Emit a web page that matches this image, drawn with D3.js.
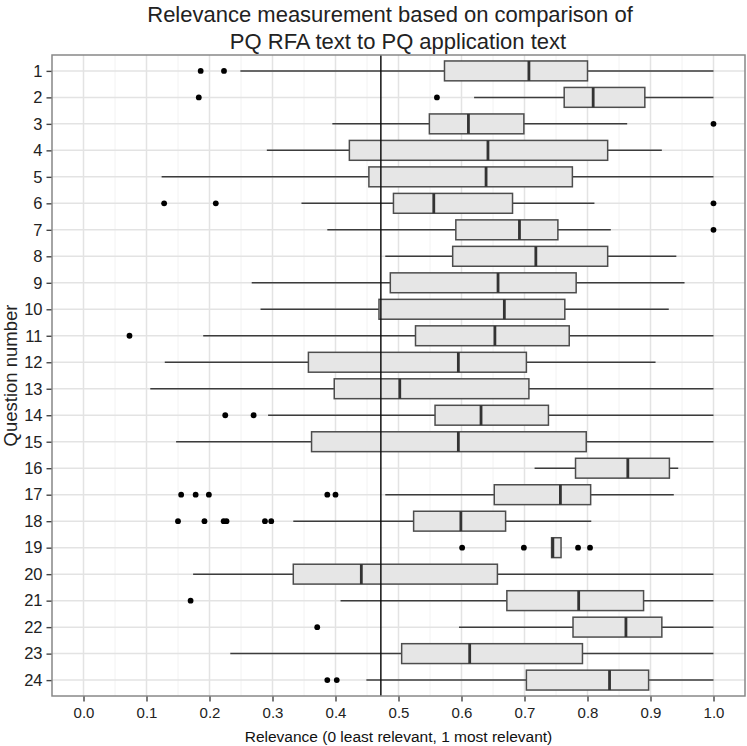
<!DOCTYPE html>
<meta charset="utf-8">
<style>
  body { margin: 0; background: #fff; }
  text { font-family: "Liberation Sans", Arial, sans-serif; }
</style>
<svg width="747" height="746"></svg>
<script src="https://cdn.jsdelivr.net/npm/d3@7"></script>
<script>

// question numbers, one box per question
var questions = d3.range(1, 25)

// five-number summaries
var lowWhisker = [0.249, 0.620, 0.395, 0.291, 0.124, 0.346, 0.387, 0.479, 0.267, 0.281, 0.190, 0.129,
                  0.106, 0.293, 0.147, 0.716, 0.479, 0.333, 0.743, 0.174, 0.408, 0.596, 0.233, 0.449]
var q1 = [0.573, 0.763, 0.549, 0.422, 0.453, 0.492, 0.591, 0.586, 0.487, 0.469, 0.527, 0.357,
          0.398, 0.558, 0.362, 0.781, 0.652, 0.524, 0.743, 0.333, 0.672, 0.777, 0.505, 0.703]
var medians = [0.707, 0.809, 0.611, 0.642, 0.639, 0.556, 0.692, 0.718, 0.658, 0.668, 0.653, 0.595,
               0.502, 0.631, 0.595, 0.864, 0.757, 0.599, 0.745, 0.441, 0.786, 0.861, 0.613, 0.835]
var q3 = [0.800, 0.891, 0.699, 0.832, 0.776, 0.681, 0.753, 0.832, 0.782, 0.764, 0.771, 0.703,
          0.707, 0.738, 0.798, 0.930, 0.805, 0.670, 0.758, 0.657, 0.889, 0.918, 0.792, 0.897]
var highWhisker = [1.0, 1.0, 0.863, 0.918, 1.0, 0.811, 0.837, 0.941, 0.954, 0.929, 1.0, 0.908,
                   1.0, 1.0, 1.0, 0.944, 0.937, 0.806, 0.758, 1.0, 1.0, 1.0, 1.0, 1.0]
var outliers = [
  [0.186, 0.223], [0.183, 0.561], [1.0], [], [], [0.128, 0.210, 1.0], [1.0], [], [], [],
  [0.073], [], [], [0.225, 0.270], [], [], [0.155, 0.178, 0.199, 0.387, 0.400],
  [0.150, 0.192, 0.2225, 0.227, 0.288, 0.298], [0.601, 0.699, 0.785, 0.804], [], [0.170],
  [0.371], [], [0.387, 0.402]
]
var refLine = 0.472
var xTicks = [0, 0.1, 0.2, 0.3, 0.4, 0.5, 0.6, 0.7, 0.8, 0.9, 1.0]

var rows = questions.map(function (q, i) {
  return { q: q, lo: lowWhisker[i], q1: q1[i], med: medians[i], q3: q3[i], hi: highWhisker[i], out: outliers[i] }
})

var svg = d3.select('svg')
var pLeft = 52, pRight = 745, pTop = 55, pBottom = 696

// ggplot style 5% expansion on the continuous axis
var x = d3.scaleLinear().domain([-0.05, 1.05]).range([pLeft, pRight])
var y = d3.scaleLinear().domain([0.4, 24.6]).range([pTop, pBottom])
var band = (y(2) - y(1)) * 0.75

// grid
var grid = svg.append('g')
grid.selectAll('line.minor')
  .data(d3.range(-0.05, 1.06, 0.1))
  .enter().append('line')
    .attr('x1', d => x(d)).attr('x2', d => x(d))
    .attr('y1', pTop).attr('y2', pBottom)
    .attr('stroke', '#f2f2f2').attr('stroke-width', 1)
grid.selectAll('line.vmajor')
  .data(xTicks)
  .enter().append('line')
    .attr('x1', d => x(d)).attr('x2', d => x(d))
    .attr('y1', pTop).attr('y2', pBottom)
    .attr('stroke', '#e3e3e3').attr('stroke-width', 1.5)
grid.selectAll('line.hmajor')
  .data(questions)
  .enter().append('line')
    .attr('x1', pLeft).attr('x2', pRight)
    .attr('y1', d => y(d)).attr('y2', d => y(d))
    .attr('stroke', '#e3e3e3').attr('stroke-width', 1.5)

// whiskers
var boxes = svg.append('g')
boxes.selectAll('line.whisker')
  .data(rows)
  .enter().append('line')
    .attr('x1', d => x(d.lo)).attr('x2', d => x(d.hi))
    .attr('y1', d => y(d.q)).attr('y2', d => y(d.q))
    .attr('stroke', '#3c3c3c').attr('stroke-width', 1.5)

boxes.selectAll('rect')
  .data(rows)
  .enter().append('rect')
    .attr('x', d => x(d.q1))
    .attr('width', d => x(d.q3) - x(d.q1))
    .attr('y', d => y(d.q) - band / 2)
    .attr('height', band)
    .attr('fill', '#e6e6e6')
    .attr('stroke', '#4d4d4d').attr('stroke-width', 1.5)

boxes.selectAll('line.median')
  .data(rows)
  .enter().append('line')
    .attr('x1', d => x(d.med)).attr('x2', d => x(d.med))
    .attr('y1', d => y(d.q) - band / 2).attr('y2', d => y(d.q) + band / 2)
    .attr('stroke', '#333').attr('stroke-width', 2.8)

// outlier points
var pts = []
rows.forEach(function (r) { r.out.forEach(function (v) { pts.push({ q: r.q, v: v }) }) })
boxes.selectAll('circle')
  .data(pts)
  .enter().append('circle')
    .attr('cx', d => x(d.v)).attr('cy', d => y(d.q))
    .attr('r', 2.9).attr('fill', '#000')

// reference line
svg.append('line')
  .attr('x1', x(refLine)).attr('x2', x(refLine))
  .attr('y1', pTop).attr('y2', pBottom)
  .attr('stroke', '#111').attr('stroke-width', 1.5)

// panel border
svg.append('rect')
  .attr('x', pLeft).attr('y', pTop)
  .attr('width', pRight - pLeft).attr('height', pBottom - pTop)
  .attr('fill', 'none').attr('stroke', '#888').attr('stroke-width', 1.5)

// axes
var xAxis = svg.append('g')
  .attr('transform', 'translate(0,' + (pBottom + 0.5) + ')')
  .call(d3.axisBottom(x).tickValues(xTicks).tickFormat(d3.format('.1f')).tickSize(5).tickPadding(6))
var yAxis = svg.append('g')
  .attr('transform', 'translate(' + (pLeft - 0.5) + ',0)')
  .call(d3.axisLeft(y).tickValues(questions).tickFormat(d3.format('d')).tickSize(5).tickPadding(4))
svg.selectAll('.domain').remove()
svg.selectAll('.tick line').attr('stroke', '#444').attr('stroke-width', 1.4)
xAxis.selectAll('text').attr('font-size', 15).attr('fill', '#222')
  .style('font-family', '"Liberation Sans", Arial, sans-serif')
yAxis.selectAll('text').attr('font-size', 16.5).attr('fill', '#222')
  .style('font-family', '"Liberation Sans", Arial, sans-serif')

// titles
var title = svg.append('text')
  .attr('text-anchor', 'middle')
  .attr('font-size', 22).attr('fill', '#222')
title.append('tspan').attr('x', 390).attr('y', 22).text('Relevance measurement based on comparison of')
title.append('tspan').attr('x', 398).attr('y', 49).text('PQ RFA text to PQ application text')

svg.append('text')
  .attr('x', (pLeft + pRight) / 2).attr('y', 742)
  .attr('text-anchor', 'middle')
  .attr('font-size', 15.5).attr('fill', '#111')
  .text('Relevance (0 least relevant, 1 most relevant)')

svg.append('text')
  .attr('transform', 'translate(17,' + ((pTop + pBottom) / 2) + ') rotate(-90)')
  .attr('text-anchor', 'middle')
  .attr('font-size', 18.5).attr('fill', '#222')
  .text('Question number')

</script>
